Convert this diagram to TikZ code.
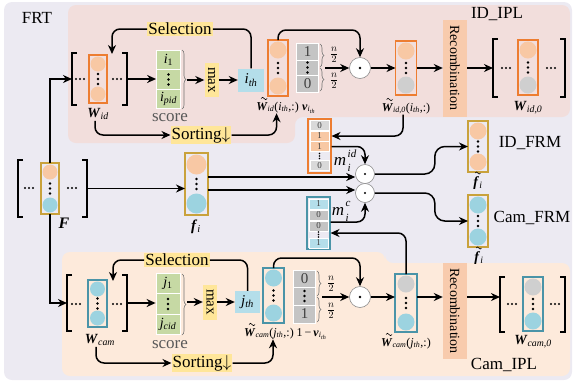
\documentclass[tikz,border=0pt]{standalone}
\usepackage{fontspec}
\setmainfont{Liberation Serif}
\usepackage{graphicx}
\usetikzlibrary{arrows.meta,decorations.pathreplacing,calc}
\definecolor{lav}{HTML}{ECEAF2}
\definecolor{pinkbg}{HTML}{F2DEDC}
\definecolor{peachbg}{HTML}{FDEADB}
\definecolor{orng}{HTML}{ED7D31}
\definecolor{lorng}{HTML}{F8C8A4}
\definecolor{lblue}{HTML}{9CD3E0}
\definecolor{tealb}{HTML}{4A94A8}
\definecolor{gold}{HTML}{C9A23C}
\definecolor{grn}{HTML}{C6D9A4}
\definecolor{ylw}{HTML}{FFE699}
\definecolor{ithb}{HTML}{B4DEEA}
\definecolor{gcell}{HTML}{C4C4C4}
\definecolor{gcirc}{HTML}{CFCFCF}
\definecolor{recb}{HTML}{F8CBAD}
\newcommand{\bi}[1]{\textbf{\textit{#1}}}
\newcommand{\ssub}[1]{\textsubscript{\itshape #1}}
% drawn tilde accents placed over the first glyph of a label node
\newcommand{\tldW}[1]{\draw[line width=0.6pt] ($(#1.base west)+(5.5,-11.5)$) sin ++(1.5,-1.2) cos ++(1.5,1.2) sin ++(1.5,1.2) cos ++(1.5,-1.2);}
\newcommand{\tldf}[1]{\draw[line width=0.6pt] ($(#1.base west)+(3,-13)$) sin ++(1.3,-1.1) cos ++(1.3,1.1) sin ++(1.3,1.1) cos ++(1.3,-1.1);}
\newcommand{\vdt}[2]{\fill (#1,{#2-5}) circle (1.3) (#1,{#2}) circle (1.3) (#1,{#2+5}) circle (1.3);}
\newcommand{\sdt}[2]{\fill (#1,{#2-2.5}) circle (0.8) (#1,{#2}) circle (0.8) (#1,{#2+2.5}) circle (0.8);}
\newcommand{\hdt}[2]{\fill ({#1-4},#2) circle (1.2) (#1,#2) circle (1.2) ({#1+4},#2) circle (1.2);}
\newcommand{\cvec}[9]{%
 \node[draw=#6, line width=1.1pt, minimum width=#5, minimum height={#4-#3}, inner sep=0pt, outer sep=0pt] (#1) at (#2,{(#3+#4)/2}) {};
 \fill[#7] (#2,{#3+#9+1.5}) circle (#9);
 \fill[#8] (#2,{#4-#9-1.5}) circle (#9);
 \vdt{#2}{(#3+#4)/2}}
\newcommand{\mtx}[5]{%
 \node[minimum width={#3-#2}, minimum height={#5-#4}, inner sep=0pt, outer sep=0pt] (#1) at ({(#2+#3)/2},{(#4+#5)/2}) {};
 \draw[line width=1.2pt] ({#2+5},#4) -- (#2,#4) -- (#2,#5) -- ({#2+5},#5);
 \draw[line width=1.2pt] ({#3-5},#4) -- (#3,#4) -- (#3,#5) -- ({#3-5},#5);}
\tikzset{
 arr/.style={line width=1.5pt, -{Stealth[length=9pt,width=8pt]}},
 ln/.style={line width=1.5pt},
 lab/.style={font=\fontsize{17}{19}\selectfont, inner sep=1pt},
 ylab/.style={fill=ylw, font=\fontsize{17}{19}\selectfont, inner sep=1pt},
 mx/.style={fill=ylw, font=\fontsize{15}{17}\selectfont, inner sep=0pt, minimum width=14, minimum height=34},
 rec/.style={fill=recb, font=\fontsize{14}{16}\selectfont, inner sep=0pt, minimum width=24, minimum height=97},
 gc/.style={fill=grn, draw=white, line width=0.8pt, minimum width=24, minimum height=19.5, inner sep=0pt, font=\fontsize{14}{16}\selectfont},
 vc/.style={fill=gcell, draw=white, line width=0.8pt, minimum width=22, inner sep=0pt, font=\fontsize{15}{17}\selectfont, text=black!75},
 mcell/.style={draw=white, line width=0.6pt, minimum width=19, minimum height=10, inner sep=0pt, font=\fontsize{9}{10}\selectfont, text=black!75},
 odot/.style={circle, draw=black!45, fill=white, minimum size=21, inner sep=0pt, line width=0.6pt},
 brc/.style={decorate, decoration={brace, amplitude=4pt}, draw=black!55, line width=0.6pt},
 sl/.style={font=\fontsize{12}{14}\selectfont, inner sep=0.5pt},
 ml/.style={font=\fontsize{14}{16}\selectfont, inner sep=1pt},
 thb/.style={fill=ithb, inner sep=0pt, font=\fontsize{15}{17}\selectfont},
 scr/.style={font=\fontsize{17}{19}\selectfont, text=black!65, inner sep=1pt},
 frac/.style={font=\fontsize{14}{15}\selectfont, inner sep=0pt},
 mm/.style={font=\fontsize{17}{19}\selectfont\itshape, inner sep=0pt},
 mscr/.style={font=\fontsize{11}{12}\selectfont\itshape, inner sep=0pt},
}
\begin{document}
\begin{tikzpicture}[x=1pt,y=-1pt]
\useasboundingbox (0,0) rectangle (574,384);
% backgrounds
\fill[lav, rounded corners=8] (4,2) rectangle (572,380);
\fill[pinkbg, rounded corners=8] (68,5) -- (570,5) -- (570,117) -- (295,117) -- (295,143) -- (68,143) -- cycle;
\fill[peachbg, rounded corners=8] (62,252) -- (385,252) -- (385,263) -- (570,263) -- (570,376) -- (62,376) -- cycle;
% titles
\node[lab] (frt) at (37,18) {FRT};
\node[lab] (idipl) at (497,14) {ID\_IPL};
\node[lab] (camipl) at (504,365) {Cam\_IPL};
\node[lab] (idfrm) at (530,143) {ID\_FRM};
\node[lab] (camfrm) at (532,218) {Cam\_FRM};
% ===== ID row =====
\mtx{Wid}{72}{127}{53}{105}
\cvec{wid}{98}{55}{103}{18}{orng}{lorng}{lorng}{7.5}
\hdt{80}{79} \hdt{117}{79}
\node[ml] (lWid) at (98,114) {\bi{W}\ssub{id}};
\node[gc] (s1) at (168.5,60) {\textit{i}\textsubscript{1}};
\node[gc] (s2) at (168.5,79.5) {};
\vdt{168.5}{79.5}
\node[gc] (s3) at (168.5,99) {\textit{i}\ssub{pid}};
\draw[brc] (182,50) -- (182,109);
\coordinate (b1) at (187,80);
\node[scr] (sc1) at (170,118) {score};
\node[mx] (max1) at (211.5,80) {\rotatebox{-90}{max}};
\node[thb, minimum width=26, minimum height=23] (ith) at (251,80) {\textit{i}\ssub{th}};
\node[ylab] (sel1) at (180,29) {Selection};
\node[ylab] (sort1) at (201,135) {Sorting$\downarrow$};
\coordinate (selT1) at (112,54);
\cvec{wtid}{278}{40}{96}{20}{orng}{lorng}{lorng}{8.5}
\node[sl, anchor=base east] (lwtid) at (299.5,110) {\bi{W}\ssub{id}(\textit{i}\ssub{th},:)};
\tldW{lwtid}
\node[sl, anchor=base west] (lv1) at (301.5,110) {\bi{v}\textsubscript{\itshape i\textsubscript{th}}};
\node[vc, minimum height=17] (v11) at (307.5,51.5) {1};
\node[vc, minimum height=15] (v12) at (307.5,67.5) {};
\vdt{307.5}{67.5}
\node[vc, minimum height=17] (v13) at (307.5,83.5) {0};
\draw[brc] (320,44) -- (320,67);
\draw[brc] (320,68) -- (320,91);
\node[frac] (fr1) at (334,55) {$\frac{n}{2}$};
\node[frac] (fr2) at (334,81) {$\frac{n}{2}$};
\coordinate (vt1) at (325,68);
\node[odot] (od1) at (360,68) {};
\fill (od1) circle (1.3);
\cvec{wtid0}{406}{41}{95}{21}{orng}{lorng}{gcirc}{8.5}
\node[sl, anchor=base] (lwtid0) at (406,111) {\bi{W}\ssub{id,0}(\textit{i}\ssub{th},:)};
\tldW{lwtid0}
\node[rec] (rec1) at (455,68) {\rotatebox{-90}{Recombination}};
\mtx{Wid0}{493}{565}{39}{97}
\cvec{wid0}{528}{40}{95}{20}{orng}{lorng}{gcirc}{8.5}
\hdt{506}{68} \hdt{551}{68}
\node[ml] (lWid0) at (528,108) {\bi{W}\ssub{id,0}};
% ===== middle =====
\mtx{Fm}{18}{87}{160}{217}
\cvec{fc}{50}{163}{214}{18}{gold}{lorng}{lblue}{7.5}
\hdt{29}{188} \hdt{72}{188}
\node[font=\fontsize{16}{18}\selectfont, inner sep=1pt] (lF) at (64,223) {\bi{F}};
\cvec{fi}{196.5}{153}{215}{23}{gold}{lorng}{lblue}{10}
\node[font=\fontsize{15}{17}\selectfont, inner sep=1pt] (lfi) at (196,227) {\bi{f}\ssub{i}};
% m_id
\node[draw=orng, line width=1.1pt, minimum width=23, minimum height=54, inner sep=0pt] (mid) at (319.5,146) {};
\node[mcell, fill=gray!30] (mid1) at (319.5,125.5) {0};
\node[mcell, fill=lorng] (mid2) at (319.5,136) {1};
\node[mcell, fill=lorng] (mid3) at (319.5,146.5) {1};
\sdt{319.5}{156}
\node[mcell, fill=gray!30] (mid5) at (319.5,165.5) {0};
\node[mm] (lmid) at (340,161) {m};
\node[mscr, anchor=west] (lmidsup) at (347.5,154) {id};
\node[mscr, anchor=west] (lmidsub) at (347.5,168) {i};
\node[odot, minimum size=19] (odA) at (365,174) {};
\fill (odA) circle (1.2);
\node[odot, minimum size=19] (odB) at (365,193) {};
\fill (odB) circle (1.2);
\cvec{ft1}{478}{121}{172}{20}{gold}{lorng}{lorng}{8.5}
\node[ml, anchor=base] (lft1) at (478,186) {\bi{f}\ssub{i}};
\tldf{lft1}
\cvec{ft2}{478}{195}{247}{20}{gold}{lblue}{lblue}{8.5}
\node[ml, anchor=base] (lft2) at (479,261) {\bi{f}\ssub{i}};
\tldf{lft2}
% m_c
\node[draw=tealb, line width=1.1pt, minimum width=23, minimum height=52, inner sep=0pt] (mcv) at (318.5,223) {};
\node[mcell, fill=ithb] (mc1) at (318.5,204) {1};
\node[mcell, fill=gcell] (mc2) at (318.5,215) {0};
\node[mcell, fill=gcell] (mc3) at (318.5,226) {0};
\sdt{318.5}{234.5}
\node[mcell, fill=ithb] (mc5) at (318.5,243) {1};
\node[mm] (lmc) at (338,211) {m};
\node[mscr, anchor=west] (lmcsup) at (345.5,204) {c};
\node[mscr, anchor=west] (lmcsub) at (345.5,218) {i};
% ===== Cam row =====
\mtx{Wc}{67}{127}{275}{331}
\cvec{wc}{97.5}{280}{327}{19}{tealb}{lblue}{lblue}{7.5}
\hdt{76}{304} \hdt{117}{304}
\node[ml] (lWc) at (100,340) {\bi{W}\ssub{cam}};
\node[gc, minimum height=20.5] (c1) at (168,283.5) {\textit{j}\textsubscript{1}};
\node[gc, minimum height=20.5] (c2) at (168,304) {};
\vdt{168}{304}
\node[gc, minimum height=20.5] (c3) at (168,324.5) {\textit{j}\ssub{cid}};
\draw[brc] (182,274) -- (182,335);
\coordinate (b2) at (187,302);
\node[scr] (sc2) at (170,345) {score};
\node[mx, minimum height=35] (max2) at (210,302) {\rotatebox{-90}{max}};
\node[thb, minimum width=25, minimum height=22] (jth) at (247.5,302) {\textit{j}\ssub{th}};
\node[ylab] (sel2) at (177,260) {Selection};
\node[ylab] (sort2) at (202,363) {Sorting$\downarrow$};
\coordinate (selT2) at (113,281);
\cvec{wtc}{273.5}{268}{323}{21}{tealb}{lblue}{lblue}{8.5}
\node[sl, anchor=base east] (lwtc) at (294.5,336) {\bi{W}\ssub{cam}(\textit{j}\ssub{th},:)};
\tldW{lwtc}
\node[sl, anchor=base west] (lv2) at (296,336) {1\,−\,\bi{v}\textsubscript{\itshape i\textsubscript{th}}};
\node[vc, minimum height=17] (v21) at (304.5,278.5) {0};
\node[vc, minimum height=18] (v22) at (304.5,296) {};
\vdt{304.5}{296}
\node[vc, minimum height=18] (v23) at (304.5,314) {1};
\draw[brc] (317,271) -- (317,296);
\draw[brc] (317,297) -- (317,322);
\node[frac] (fr3) at (331,284) {$\frac{n}{2}$};
\node[frac] (fr4) at (331,311) {$\frac{n}{2}$};
\coordinate (vt2) at (322,297);
\node[odot] (od3) at (360,297) {};
\fill (od3) circle (1.3);
\cvec{wtc0}{406}{274}{332}{22}{tealb}{gcirc}{lblue}{8.5}
\node[sl, anchor=base] (lwtc0) at (406,346) {\bi{W}\ssub{cam}(\textit{j}\ssub{th},:)};
\tldW{lwtc0}
\node[rec, minimum height=96] (rec2) at (455,311) {\rotatebox{-90}{Recombination}};
\mtx{Wc0}{500}{565}{277}{332}
\cvec{wc0}{533}{277}{331}{20}{tealb}{gcirc}{lblue}{8.5}
\hdt{512}{304} \hdt{555}{304}
\node[ml] (lWc0) at (533,342) {\bi{W}\ssub{cam,0}};
% ===== connectors =====
\draw[arr] (fc.north) |- (Wid.west);
\draw[arr] (fc.south) |- (Wc.west);
% ID row
\draw[arr] (Wid.east) -- (s2.west |- Wid.east);
\draw[arr] (b1) -- (max1.west |- b1);
\draw[arr] (max1.east) -- (ith.west);
\draw[ln, rounded corners=8] (ith.north) |- (sel1.east);
\draw[arr, rounded corners=8] (sel1.west) -| (selT1);
\draw[arr, rounded corners=8] ([xshift=-3pt]lWid.south) |- (sort1.west);
\draw[arr, rounded corners=8] (sort1.east) -| ([xshift=-1pt]lwtid.south);
\draw[arr, rounded corners=8] (wtid.north) -- ++(0,-10) -| (od1.north);
\draw[arr] (vt1) -- (od1.west);
\draw[arr] (od1.east) -- (wtid0.west |- od1.east);
\draw[arr] (wtid0.east |- od1.east) -- (rec1.west |- od1.east);
\draw[arr] (rec1.east |- od1.east) -- (Wid0.west |- od1.east);
% middle
\coordinate (ya) at (0,177);
\coordinate (yb) at (0,190);
\coordinate (yc) at (0,222);
\coordinate (yd) at (0,233);
\draw[arr] (Fm.east) -- (fi.west |- Fm.east);
\draw[arr] (fi.east |- ya) -- (odA.west |- ya);
\draw[arr] (fi.east |- yb) -- (odB.west |- yb);
\draw[arr, rounded corners=10] (odA.east) -- ++(60,0) |- (ft1.west);
\draw[arr, rounded corners=10] (odB.east) -- ++(60,0) |- (ft2.west);
\draw[arr, rounded corners=8] ([xshift=-3pt]lwtid0.south) |- (mid.east |- mid2);
\draw[arr, rounded corners=8] (mid.east |- mid3) -| (odA.north);
\draw[arr, rounded corners=8] (mcv.east |- yc) -| (odB.south);
\draw[arr, rounded corners=8] (wtc0.north) |- (mcv.east |- yd);
% Cam row
\draw[arr] (Wc.east) -- (c2.west |- Wc.east);
\draw[arr] (b2) -- (max2.west |- b2);
\draw[arr] (max2.east) -- (jth.west);
\draw[ln, rounded corners=8] (jth.north) |- (sel2.east);
\draw[arr, rounded corners=8] (sel2.west) -| (selT2);
\draw[arr, rounded corners=8] ([xshift=-4pt]lWc.south) |- (sort2.west);
\draw[arr, rounded corners=8] (sort2.east) -| ([xshift=4pt]lwtc.south);
\draw[arr, rounded corners=8] (wtc.north) -- ++(0,-10) -| (od3.north);
\draw[arr] (vt2) -- (od3.west);
\draw[arr] (od3.east) -- (wtc0.west |- od3.east);
\draw[arr] (wtc0.east |- od3.east) -- (rec2.west |- od3.east);
\draw[arr] (rec2.east |- od3.east) -- (Wc0.west |- od3.east);
\end{tikzpicture}
\end{document}
